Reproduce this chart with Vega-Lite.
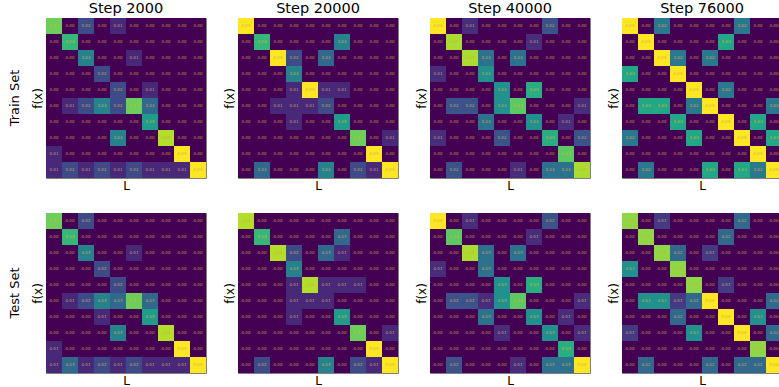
{
  "$schema": "https://vega.github.io/schema/vega-lite/v6.json",
  "background": "white",
  "padding": {"left": 8, "top": 0, "right": 0, "bottom": 0},
  "bounds": "flush",
  "data": {"values": [
    {"s":"Train Set","t":"Step 2000","y":0,"x":[0,1,2,3,4,5,6,7,8,9],"v":[0.07,0,0.02,0,0.01,0,0,0,0,0]},
    {"s":"Train Set","t":"Step 2000","y":1,"x":[0,1,2,3,4,5,6,7,8,9],"v":[0,0.06,0,0,0,0,0,0,0,0]},
    {"s":"Train Set","t":"Step 2000","y":2,"x":[0,1,2,3,4,5,6,7,8,9],"v":[0,0,0.04,0,0,0.01,0,0,0,0]},
    {"s":"Train Set","t":"Step 2000","y":3,"x":[0,1,2,3,4,5,6,7,8,9],"v":[0,0,0,0.02,0,0,0,0,0,0]},
    {"s":"Train Set","t":"Step 2000","y":4,"x":[0,1,2,3,4,5,6,7,8,9],"v":[0,0,0,0,0.02,0,0.01,0,0,0]},
    {"s":"Train Set","t":"Step 2000","y":5,"x":[0,1,2,3,4,5,6,7,8,9],"v":[0,0.01,0.02,0.04,0.02,0.07,0.03,0,0,0]},
    {"s":"Train Set","t":"Step 2000","y":6,"x":[0,1,2,3,4,5,6,7,8,9],"v":[0,0,0,0,0,0,0.05,0,0,0]},
    {"s":"Train Set","t":"Step 2000","y":7,"x":[0,1,2,3,4,5,6,7,8,9],"v":[0,0,0,0,0.04,0,0,0.08,0,0]},
    {"s":"Train Set","t":"Step 2000","y":8,"x":[0,1,2,3,4,5,6,7,8,9],"v":[0.01,0,0,0,0,0,0,0,0.09,0]},
    {"s":"Train Set","t":"Step 2000","y":9,"x":[0,1,2,3,4,5,6,7,8,9],"v":[0.01,0.02,0.01,0.02,0.01,0.02,0.01,0.01,0.01,0.09]},

    {"s":"Train Set","t":"Step 20000","y":0,"x":[0,1,2,3,4,5,6,7,8,9],"v":[0.09,0,0,0,0,0,0,0,0,0]},
    {"s":"Train Set","t":"Step 20000","y":1,"x":[0,1,2,3,4,5,6,7,8,9],"v":[0,0.06,0,0,0,0,0.04,0,0,0]},
    {"s":"Train Set","t":"Step 20000","y":2,"x":[0,1,2,3,4,5,6,7,8,9],"v":[0,0,0.09,0.02,0,0.03,0,0,0,0]},
    {"s":"Train Set","t":"Step 20000","y":3,"x":[0,1,2,3,4,5,6,7,8,9],"v":[0,0,0,0.04,0,0,0,0,0,0]},
    {"s":"Train Set","t":"Step 20000","y":4,"x":[0,1,2,3,4,5,6,7,8,9],"v":[0,0,0,0.01,0.09,0.01,0.01,0,0,0]},
    {"s":"Train Set","t":"Step 20000","y":5,"x":[0,1,2,3,4,5,6,7,8,9],"v":[0,0,0.01,0.01,0.01,0.02,0,0,0,0]},
    {"s":"Train Set","t":"Step 20000","y":6,"x":[0,1,2,3,4,5,6,7,8,9],"v":[0,0,0,0.01,0,0,0.05,0,0,0]},
    {"s":"Train Set","t":"Step 20000","y":7,"x":[0,1,2,3,4,5,6,7,8,9],"v":[0,0,0,0,0,0,0,0.07,0,0.01]},
    {"s":"Train Set","t":"Step 20000","y":8,"x":[0,1,2,3,4,5,6,7,8,9],"v":[0,0,0,0,0,0,0,0,0.09,0]},
    {"s":"Train Set","t":"Step 20000","y":9,"x":[0,1,2,3,4,5,6,7,8,9],"v":[0,0.03,0,0,0,0.04,0,0.02,0.01,0.09]},

    {"s":"Train Set","t":"Step 40000","y":0,"x":[0,1,2,3,4,5,6,7,8,9],"v":[0.08,0,0.01,0,0,0,0,0.02,0,0]},
    {"s":"Train Set","t":"Step 40000","y":1,"x":[0,1,2,3,4,5,6,7,8,9],"v":[0,0.07,0,0,0,0,0.01,0,0,0]},
    {"s":"Train Set","t":"Step 40000","y":2,"x":[0,1,2,3,4,5,6,7,8,9],"v":[0,0,0.07,0.03,0,0.03,0,0,0,0]},
    {"s":"Train Set","t":"Step 40000","y":3,"x":[0,1,2,3,4,5,6,7,8,9],"v":[0.01,0,0,0.04,0,0,0,0,0,0]},
    {"s":"Train Set","t":"Step 40000","y":4,"x":[0,1,2,3,4,5,6,7,8,9],"v":[0,0,0,0,0.04,0,0.05,0,0,0]},
    {"s":"Train Set","t":"Step 40000","y":5,"x":[0,1,2,3,4,5,6,7,8,9],"v":[0,0.02,0.02,0,0.04,0.06,0,0,0,0.01]},
    {"s":"Train Set","t":"Step 40000","y":6,"x":[0,1,2,3,4,5,6,7,8,9],"v":[0,0,0,0.03,0,0,0.04,0,0.01,0]},
    {"s":"Train Set","t":"Step 40000","y":7,"x":[0,1,2,3,4,5,6,7,8,9],"v":[0.01,0,0,0,0.02,0,0,0.05,0,0.02]},
    {"s":"Train Set","t":"Step 40000","y":8,"x":[0,1,2,3,4,5,6,7,8,9],"v":[0,0,0,0,0,0,0,0,0.06,0]},
    {"s":"Train Set","t":"Step 40000","y":9,"x":[0,1,2,3,4,5,6,7,8,9],"v":[0,0.02,0,0,0,0.01,0,0.03,0.03,0.07]},

    {"s":"Train Set","t":"Step 76000","y":0,"x":[0,1,2,3,4,5,6,7,8,9],"v":[0.05,0,0.02,0,0,0,0,0.02,0,0]},
    {"s":"Train Set","t":"Step 76000","y":1,"x":[0,1,2,3,4,5,6,7,8,9],"v":[0,0.05,0,0,0,0,0.03,0,0,0]},
    {"s":"Train Set","t":"Step 76000","y":2,"x":[0,1,2,3,4,5,6,7,8,9],"v":[0,0,0.05,0.02,0,0.02,0,0,0,0]},
    {"s":"Train Set","t":"Step 76000","y":3,"x":[0,1,2,3,4,5,6,7,8,9],"v":[0.03,0,0,0.05,0,0,0,0,0,0]},
    {"s":"Train Set","t":"Step 76000","y":4,"x":[0,1,2,3,4,5,6,7,8,9],"v":[0,0,0,0,0.05,0,0.02,0,0,0]},
    {"s":"Train Set","t":"Step 76000","y":5,"x":[0,1,2,3,4,5,6,7,8,9],"v":[0,0.03,0.03,0,0.02,0.05,0,0,0,0.02]},
    {"s":"Train Set","t":"Step 76000","y":6,"x":[0,1,2,3,4,5,6,7,8,9],"v":[0,0,0,0.03,0,0,0.05,0,0.03,0]},
    {"s":"Train Set","t":"Step 76000","y":7,"x":[0,1,2,3,4,5,6,7,8,9],"v":[0.02,0,0,0,0.03,0,0,0.05,0,0.03]},
    {"s":"Train Set","t":"Step 76000","y":8,"x":[0,1,2,3,4,5,6,7,8,9],"v":[0,0,0,0,0,0,0,0,0.05,0]},
    {"s":"Train Set","t":"Step 76000","y":9,"x":[0,1,2,3,4,5,6,7,8,9],"v":[0,0.02,0,0,0,0.03,0,0.03,0.02,0.05]},

    {"s":"Test Set","t":"Step 2000","y":0,"x":[0,1,2,3,4,5,6,7,8,9],"v":[0.07,0,0.02,0,0,0,0,0,0,0]},
    {"s":"Test Set","t":"Step 2000","y":1,"x":[0,1,2,3,4,5,6,7,8,9],"v":[0,0.06,0,0,0,0,0,0,0,0]},
    {"s":"Test Set","t":"Step 2000","y":2,"x":[0,1,2,3,4,5,6,7,8,9],"v":[0,0,0.04,0,0,0.01,0,0,0,0]},
    {"s":"Test Set","t":"Step 2000","y":3,"x":[0,1,2,3,4,5,6,7,8,9],"v":[0,0,0,0.02,0,0,0,0,0,0]},
    {"s":"Test Set","t":"Step 2000","y":4,"x":[0,1,2,3,4,5,6,7,8,9],"v":[0,0,0,0,0.02,0,0,0,0,0]},
    {"s":"Test Set","t":"Step 2000","y":5,"x":[0,1,2,3,4,5,6,7,8,9],"v":[0,0.01,0.02,0.04,0.03,0.07,0.03,0,0,0]},
    {"s":"Test Set","t":"Step 2000","y":6,"x":[0,1,2,3,4,5,6,7,8,9],"v":[0,0,0,0.01,0,0,0.05,0,0,0]},
    {"s":"Test Set","t":"Step 2000","y":7,"x":[0,1,2,3,4,5,6,7,8,9],"v":[0,0,0,0,0.04,0,0,0.08,0,0]},
    {"s":"Test Set","t":"Step 2000","y":8,"x":[0,1,2,3,4,5,6,7,8,9],"v":[0.01,0,0,0,0,0,0,0,0.09,0]},
    {"s":"Test Set","t":"Step 2000","y":9,"x":[0,1,2,3,4,5,6,7,8,9],"v":[0.01,0.03,0.01,0.02,0.01,0.02,0.01,0.01,0.01,0.09]},

    {"s":"Test Set","t":"Step 20000","y":0,"x":[0,1,2,3,4,5,6,7,8,9],"v":[0.08,0,0,0,0,0,0,0,0,0]},
    {"s":"Test Set","t":"Step 20000","y":1,"x":[0,1,2,3,4,5,6,7,8,9],"v":[0,0.06,0,0,0,0,0.03,0,0,0]},
    {"s":"Test Set","t":"Step 20000","y":2,"x":[0,1,2,3,4,5,6,7,8,9],"v":[0,0,0.08,0.02,0,0.03,0.01,0,0,0]},
    {"s":"Test Set","t":"Step 20000","y":3,"x":[0,1,2,3,4,5,6,7,8,9],"v":[0,0,0,0.04,0,0,0,0,0,0]},
    {"s":"Test Set","t":"Step 20000","y":4,"x":[0,1,2,3,4,5,6,7,8,9],"v":[0,0,0,0.01,0.08,0.01,0.01,0.01,0,0]},
    {"s":"Test Set","t":"Step 20000","y":5,"x":[0,1,2,3,4,5,6,7,8,9],"v":[0,0,0,0.01,0.01,0.01,0,0,0,0]},
    {"s":"Test Set","t":"Step 20000","y":6,"x":[0,1,2,3,4,5,6,7,8,9],"v":[0,0,0,0.01,0,0,0.05,0,0,0]},
    {"s":"Test Set","t":"Step 20000","y":7,"x":[0,1,2,3,4,5,6,7,8,9],"v":[0,0,0,0,0,0,0,0.07,0,0.01]},
    {"s":"Test Set","t":"Step 20000","y":8,"x":[0,1,2,3,4,5,6,7,8,9],"v":[0,0,0,0,0,0,0,0,0.09,0]},
    {"s":"Test Set","t":"Step 20000","y":9,"x":[0,1,2,3,4,5,6,7,8,9],"v":[0,0.02,0,0,0,0.04,0,0.02,0.01,0.09]},

    {"s":"Test Set","t":"Step 40000","y":0,"x":[0,1,2,3,4,5,6,7,8,9],"v":[0.08,0,0.01,0,0,0,0,0.02,0,0]},
    {"s":"Test Set","t":"Step 40000","y":1,"x":[0,1,2,3,4,5,6,7,8,9],"v":[0,0.06,0,0,0,0,0.01,0,0,0]},
    {"s":"Test Set","t":"Step 40000","y":2,"x":[0,1,2,3,4,5,6,7,8,9],"v":[0,0,0.07,0.03,0,0.03,0,0,0,0]},
    {"s":"Test Set","t":"Step 40000","y":3,"x":[0,1,2,3,4,5,6,7,8,9],"v":[0.01,0,0,0.03,0,0,0,0,0,0]},
    {"s":"Test Set","t":"Step 40000","y":4,"x":[0,1,2,3,4,5,6,7,8,9],"v":[0,0,0,0,0.04,0,0.05,0,0,0]},
    {"s":"Test Set","t":"Step 40000","y":5,"x":[0,1,2,3,4,5,6,7,8,9],"v":[0,0.02,0.02,0.01,0.04,0.06,0,0,0,0.01]},
    {"s":"Test Set","t":"Step 40000","y":6,"x":[0,1,2,3,4,5,6,7,8,9],"v":[0,0,0,0.03,0,0,0.04,0,0.01,0]},
    {"s":"Test Set","t":"Step 40000","y":7,"x":[0,1,2,3,4,5,6,7,8,9],"v":[0,0,0,0,0.01,0,0,0.04,0,0.01]},
    {"s":"Test Set","t":"Step 40000","y":8,"x":[0,1,2,3,4,5,6,7,8,9],"v":[0,0,0,0,0,0,0,0,0.05,0]},
    {"s":"Test Set","t":"Step 40000","y":9,"x":[0,1,2,3,4,5,6,7,8,9],"v":[0,0.02,0,0,0,0.01,0,0.03,0.03,0.08]},

    {"s":"Test Set","t":"Step 76000","y":0,"x":[0,1,2,3,4,5,6,7,8,9],"v":[0.05,0,0.01,0,0,0,0,0.02,0,0]},
    {"s":"Test Set","t":"Step 76000","y":1,"x":[0,1,2,3,4,5,6,7,8,9],"v":[0,0.05,0,0,0,0,0.02,0,0,0]},
    {"s":"Test Set","t":"Step 76000","y":2,"x":[0,1,2,3,4,5,6,7,8,9],"v":[0,0,0.05,0.02,0,0.01,0,0,0,0]},
    {"s":"Test Set","t":"Step 76000","y":3,"x":[0,1,2,3,4,5,6,7,8,9],"v":[0.03,0,0,0.05,0,0,0,0,0,0]},
    {"s":"Test Set","t":"Step 76000","y":4,"x":[0,1,2,3,4,5,6,7,8,9],"v":[0,0,0,0,0.05,0,0.01,0,0,0]},
    {"s":"Test Set","t":"Step 76000","y":5,"x":[0,1,2,3,4,5,6,7,8,9],"v":[0,0.03,0.03,0.01,0.02,0.06,0,0,0,0.02]},
    {"s":"Test Set","t":"Step 76000","y":6,"x":[0,1,2,3,4,5,6,7,8,9],"v":[0,0,0,0.02,0,0,0.06,0,0.03,0]},
    {"s":"Test Set","t":"Step 76000","y":7,"x":[0,1,2,3,4,5,6,7,8,9],"v":[0.01,0,0,0,0.03,0,0,0.06,0,0.02]},
    {"s":"Test Set","t":"Step 76000","y":8,"x":[0,1,2,3,4,5,6,7,8,9],"v":[0,0,0,0,0,0,0,0,0.05,0]},
    {"s":"Test Set","t":"Step 76000","y":9,"x":[0,1,2,3,4,5,6,7,8,9],"v":[0,0.02,0,0,0,0.02,0,0.02,0.02,0.06]}
  ]},
  "transform": [{"flatten": ["x", "v"]}],
  "facet": {
    "row": {"field": "s", "type": "nominal", "sort": ["Train Set", "Test Set"],
      "header": {"title": null, "labelAngle": -90, "labelOrient": "left", "labelFontSize": 13, "labelFontWeight": "normal", "labelPadding": 18, "labelFont": "DejaVu Sans", "labelColor": "#000"}},
    "column": {"field": "t", "type": "nominal", "sort": ["Step 2000", "Step 20000", "Step 40000", "Step 76000"],
      "header": {"title": null, "labelOrient": "top", "labelFontSize": 14.5, "labelFontWeight": "normal", "labelPadding": 2, "labelFont": "DejaVu Sans", "labelColor": "#000"}}
  },
  "spacing": {"row": 35, "column": 32},
  "resolve": {"scale": {"color": "independent"}, "axis": {"x": "independent", "y": "independent"}},
  "spec": {
    "width": 160,
    "height": 160,
    "layer": [
      {"mark": {"type": "rect"},
       "encoding": {
         "x": {"field": "x", "type": "ordinal", "title": "L", "scale": {"paddingInner": 0, "paddingOuter": 0}},
         "y": {"field": "y", "type": "ordinal", "title": "f(x)", "scale": {"paddingInner": 0, "paddingOuter": 0}},
         "color": {"field": "v", "type": "quantitative", "scale": {"scheme": "viridis", "zero": true}, "legend": null}
       }},
      {"mark": {"type": "text", "fontSize": 4, "color": "#d2b040", "opacity": 0.9, "font": "DejaVu Sans"},
       "encoding": {
         "x": {"field": "x", "type": "ordinal"},
         "y": {"field": "y", "type": "ordinal"},
         "text": {"field": "v", "type": "quantitative", "format": ".2f"}
       }}
    ]
  },
  "config": {
    "font": "DejaVu Sans",
    "view": {"stroke": "#808080", "strokeWidth": 1},
    "axis": {"labels": false, "ticks": false, "domain": false, "grid": false, "titleFontWeight": "normal", "titleFontSize": 12, "titleColor": "#000", "titlePadding": 2}
  }
}
